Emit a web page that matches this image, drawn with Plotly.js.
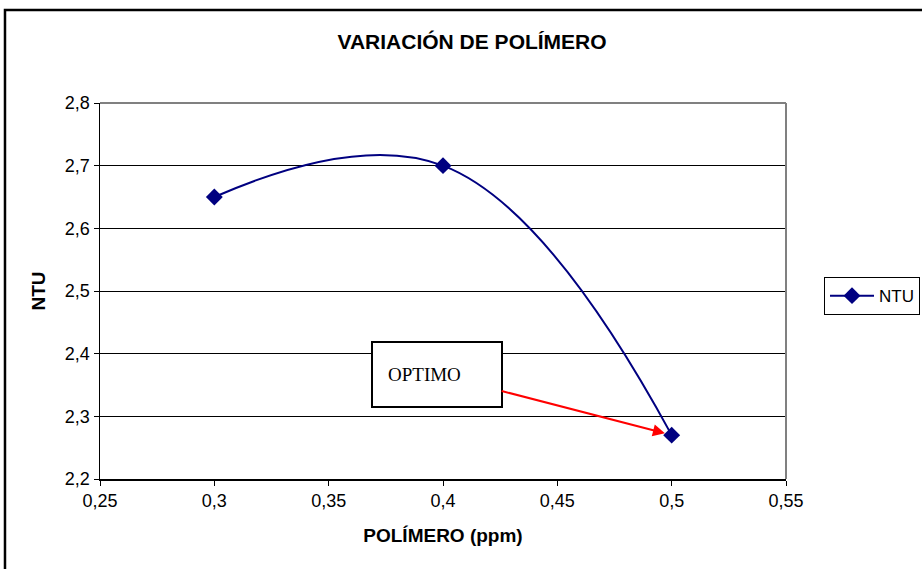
<!DOCTYPE html>
<html>
<head>
<meta charset="utf-8">
<script src="https://cdn.plot.ly/plotly-3.0.1.min.js"></script>
<style>html,body{margin:0;padding:0;background:#fff;}#chart{width:922px;height:569px;}</style>
</head>
<body>
<div id="chart"></div>
<script>
const polimero = [0.3, 0.4, 0.5];
const ntu = [2.65, 2.7, 2.27];
const seriesName = 'NTU';
const chartTitle = 'VARIACIÓN DE POLÍMERO';
const xTitle = 'POLÍMERO (ppm)';
const yTitle = 'NTU';
const noteText = 'OPTIMO';
const notePoint = [0.5, 2.27];

const navy = '#000080';
const trace = {
  x: polimero, y: ntu, name: seriesName, type: 'scatter', mode: 'lines+markers',
  line: {color: navy, width: 2, shape: 'spline', smoothing: 1.2},
  marker: {symbol: 'diamond', size: 13, color: navy}
};
const tickFont = {family: 'Liberation Sans, Arial, sans-serif', size: 18, color: '#000'};
const layout = {
  width: 922, height: 569,
  margin: {l: 100, r: 136, t: 103, b: 90, autoexpand: false},
  paper_bgcolor: '#fff', plot_bgcolor: '#fff',
  separators: ',.',
  showlegend: true,
  font: {family: 'Liberation Sans, Arial, sans-serif', color: '#000'},
  title: {text: '<b>' + chartTitle + '</b>', font: {size: 21, color: '#000'}, x: 0.512, xref: 'container', y: 0.926, yanchor: 'middle'},
  xaxis: {
    range: [0.25, 0.55], dtick: 0.05, tick0: 0.25,
    showgrid: false, zeroline: false,
    showline: true, linecolor: '#000', linewidth: 1.5, mirror: false,
    ticks: 'outside', ticklen: 5, tickcolor: '#000', tickfont: tickFont,
    title: {text: '<b>' + xTitle + '</b>', font: {size: 19, color: '#000'}, standoff: 18}
  },
  yaxis: {
    range: [2.2, 2.8], dtick: 0.1, tick0: 2.2,
    showgrid: true, gridcolor: '#000', gridwidth: 1, zeroline: false,
    showline: true, linecolor: '#000', linewidth: 1.5,
    ticks: 'outside', ticklen: 5, tickcolor: '#000', tickfont: tickFont,
    tickformat: '.1f',
    title: {text: '<b>' + yTitle + '</b>', font: {size: 19, color: '#000'}, standoff: 14}
  },
  legend: {
    x: 1.0554, y: 0.537, xanchor: 'left', yanchor: 'top',
    bordercolor: '#000', borderwidth: 1, bgcolor: '#fff',
    font: {size: 17, color: '#000'}, itemwidth: 44, tracegroupgap: 0
  },
  shapes: [
    {type: 'line', xref: 'paper', yref: 'paper', x0: 0, x1: 1, y0: 1, y1: 1, line: {color: '#808080', width: 2}},
    {type: 'line', xref: 'paper', yref: 'paper', x0: 1, x1: 1, y0: 0, y1: 1, line: {color: '#808080', width: 2}},
    {type: 'rect', xref: 'paper', yref: 'paper', x0: -0.1385, x1: 1.25, y0: -0.3, y1: 1.2473, line: {color: '#000', width: 2.5}, layer: 'below'}
  ],
  annotations: [{
    x: notePoint[0], y: notePoint[1], xref: 'x', yref: 'y',
    text: noteText, showarrow: true, ax: -235, ay: -61,
    arrowcolor: '#ff0000', arrowwidth: 2, arrowhead: 2, arrowsize: 1.2, standoff: 7,
    font: {family: 'Liberation Serif, Times New Roman, serif', size: 19, color: '#000'},
    align: 'left', valign: 'middle', width: 98, height: 33, borderpad: 15,
    bordercolor: '#000', borderwidth: 2, bgcolor: '#fff'
  }]
};
Plotly.newPlot('chart', [trace], layout, {displayModeBar: false, staticPlot: true});
</script>
</body>
</html>
